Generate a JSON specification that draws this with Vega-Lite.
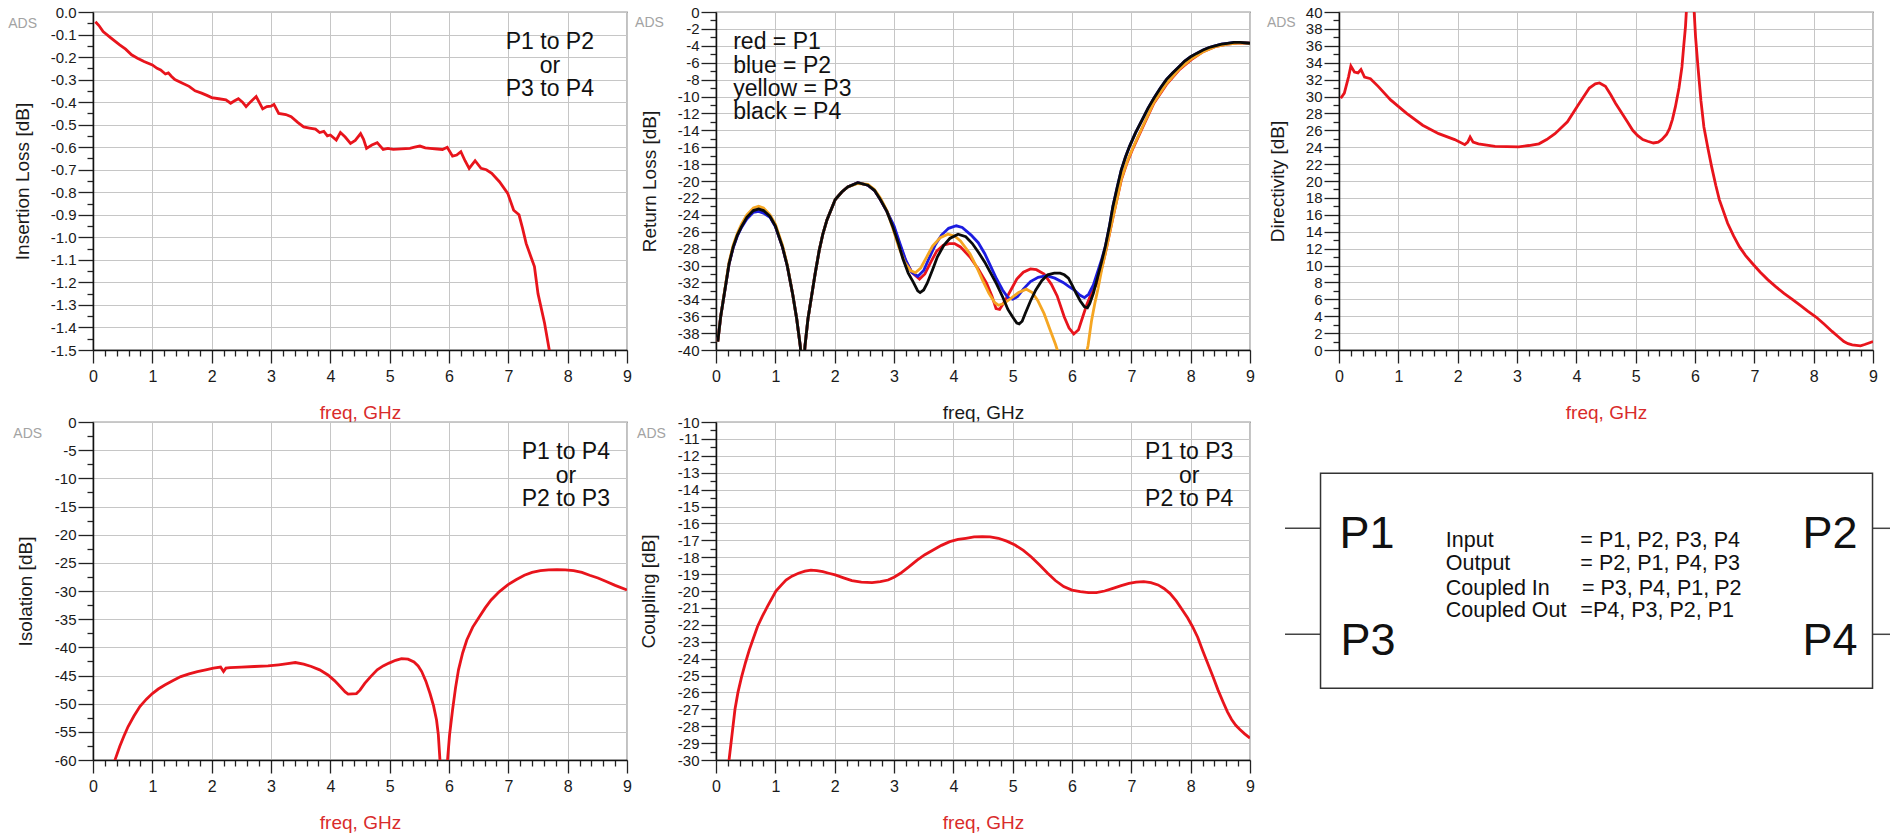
{
"$schema": "https://vega.github.io/schema/vega-lite/v6.json",
"padding": {"left": 7, "top": 4, "right": 0, "bottom": 0},
"background": "white",
"columns": 3,
"spacing": {"row": 72, "column": 89},
"bounds": "flush",
"datasets": {
"il": [
{"f":0.04,"v":-0.043},{"f":0.1,"v":-0.06},{"f":0.17,"v":-0.087},{"f":0.3,"v":-0.115},{"f":0.45,"v":-0.146},{"f":0.55,"v":-0.165},{"f":0.65,"v":-0.19},{"f":0.75,"v":-0.205},{"f":0.86,"v":-0.22},{"f":1.0,"v":-0.235},{"f":1.08,"v":-0.25},{"f":1.14,"v":-0.257},{"f":1.22,"v":-0.275},{"f":1.27,"v":-0.27},{"f":1.32,"v":-0.285},{"f":1.38,"v":-0.3},{"f":1.5,"v":-0.315},{"f":1.62,"v":-0.33},{"f":1.72,"v":-0.35},{"f":1.83,"v":-0.36},{"f":1.92,"v":-0.37},{"f":2.0,"v":-0.38},{"f":2.12,"v":-0.385},{"f":2.24,"v":-0.39},{"f":2.32,"v":-0.405},{"f":2.38,"v":-0.395},{"f":2.45,"v":-0.385},{"f":2.52,"v":-0.4},{"f":2.58,"v":-0.42},{"f":2.65,"v":-0.4},{"f":2.75,"v":-0.375},{"f":2.8,"v":-0.4},{"f":2.86,"v":-0.43},{"f":2.93,"v":-0.42},{"f":3.0,"v":-0.418},{"f":3.05,"v":-0.41},{"f":3.13,"v":-0.45},{"f":3.25,"v":-0.455},{"f":3.34,"v":-0.465},{"f":3.45,"v":-0.49},{"f":3.55,"v":-0.51},{"f":3.65,"v":-0.515},{"f":3.75,"v":-0.52},{"f":3.82,"v":-0.535},{"f":3.89,"v":-0.53},{"f":3.95,"v":-0.55},{"f":4.0,"v":-0.546},{"f":4.1,"v":-0.568},{"f":4.17,"v":-0.535},{"f":4.25,"v":-0.555},{"f":4.34,"v":-0.583},{"f":4.42,"v":-0.57},{"f":4.51,"v":-0.54},{"f":4.56,"v":-0.565},{"f":4.61,"v":-0.605},{"f":4.7,"v":-0.59},{"f":4.79,"v":-0.58},{"f":4.89,"v":-0.61},{"f":4.97,"v":-0.605},{"f":5.06,"v":-0.61},{"f":5.2,"v":-0.607},{"f":5.34,"v":-0.605},{"f":5.42,"v":-0.6},{"f":5.51,"v":-0.595},{"f":5.6,"v":-0.603},{"f":5.68,"v":-0.605},{"f":5.8,"v":-0.608},{"f":5.89,"v":-0.61},{"f":5.97,"v":-0.6},{"f":6.06,"v":-0.64},{"f":6.13,"v":-0.635},{"f":6.2,"v":-0.62},{"f":6.27,"v":-0.66},{"f":6.34,"v":-0.694},{"f":6.44,"v":-0.66},{"f":6.54,"v":-0.694},{"f":6.63,"v":-0.7},{"f":6.72,"v":-0.716},{"f":6.85,"v":-0.753},{"f":6.99,"v":-0.805},{"f":7.09,"v":-0.88},{"f":7.18,"v":-0.9},{"f":7.24,"v":-0.96},{"f":7.3,"v":-1.027},{"f":7.38,"v":-1.086},{"f":7.44,"v":-1.13},{"f":7.5,"v":-1.25},{"f":7.61,"v":-1.38},{"f":7.69,"v":-1.5},{"f":7.74,"v":-1.6}
],
"rl": [
{"p":"P1","f":0.03,"v":-39},{"p":"P1","f":0.08,"v":-36},{"p":"P1","f":0.15,"v":-32.9},{"p":"P1","f":0.22,"v":-29.8},{"p":"P1","f":0.29,"v":-27.8},{"p":"P1","f":0.36,"v":-26.4},{"p":"P1","f":0.43,"v":-25.4},{"p":"P1","f":0.52,"v":-24.3},{"p":"P1","f":0.63,"v":-23.5},{"p":"P1","f":0.72,"v":-23.4},{"p":"P1","f":0.8,"v":-23.6},{"p":"P1","f":0.91,"v":-24.2},{"p":"P1","f":1.0,"v":-25.3},{"p":"P1","f":1.12,"v":-27.8},{"p":"P1","f":1.2,"v":-30.0},{"p":"P1","f":1.29,"v":-33.3},{"p":"P1","f":1.36,"v":-36.3},{"p":"P1","f":1.42,"v":-39.5},{"p":"P1","f":1.445,"v":-42},{"p":"P1","f":1.475,"v":-42},{"p":"P1","f":1.5,"v":-39.5},{"p":"P1","f":1.55,"v":-36.3},{"p":"P1","f":1.6,"v":-34.1},{"p":"P1","f":1.67,"v":-31},{"p":"P1","f":1.74,"v":-28.2},{"p":"P1","f":1.8,"v":-26.3},{"p":"P1","f":1.87,"v":-24.6},{"p":"P1","f":2.01,"v":-22.2},{"p":"P1","f":2.12,"v":-21.3},{"p":"P1","f":2.22,"v":-20.7},{"p":"P1","f":2.39,"v":-20.2},{"p":"P1","f":2.56,"v":-20.5},{"p":"P1","f":2.67,"v":-21.1},{"p":"P1","f":2.77,"v":-22.2},{"p":"P1","f":2.88,"v":-23.6},{"p":"P1","f":3.0,"v":-25.5},{"p":"P1","f":3.1,"v":-27.6},{"p":"P1","f":3.2,"v":-29.5},{"p":"P1","f":3.3,"v":-30.8},{"p":"P1","f":3.43,"v":-31.6},{"p":"P1","f":3.52,"v":-31.0},{"p":"P1","f":3.62,"v":-29.6},{"p":"P1","f":3.72,"v":-28.3},{"p":"P1","f":3.83,"v":-27.6},{"p":"P1","f":3.93,"v":-27.4},{"p":"P1","f":4.02,"v":-27.4},{"p":"P1","f":4.12,"v":-27.8},{"p":"P1","f":4.28,"v":-29.0},{"p":"P1","f":4.42,"v":-30.4},{"p":"P1","f":4.56,"v":-32.1},{"p":"P1","f":4.65,"v":-33.6},{"p":"P1","f":4.72,"v":-35.1},{"p":"P1","f":4.78,"v":-35.2},{"p":"P1","f":4.86,"v":-34.3},{"p":"P1","f":4.97,"v":-32.9},{"p":"P1","f":5.07,"v":-31.6},{"p":"P1","f":5.18,"v":-30.8},{"p":"P1","f":5.3,"v":-30.4},{"p":"P1","f":5.4,"v":-30.5},{"p":"P1","f":5.53,"v":-31.0},{"p":"P1","f":5.65,"v":-32.2},{"p":"P1","f":5.75,"v":-33.6},{"p":"P1","f":5.87,"v":-36.1},{"p":"P1","f":5.95,"v":-37.4},{"p":"P1","f":6.03,"v":-38.1},{"p":"P1","f":6.11,"v":-37.6},{"p":"P1","f":6.18,"v":-36.1},{"p":"P1","f":6.25,"v":-34.6},{"p":"P1","f":6.32,"v":-33.4},{"p":"P1","f":6.42,"v":-32.1},{"p":"P1","f":6.49,"v":-30.6},{"p":"P1","f":6.56,"v":-28.6},{"p":"P1","f":6.63,"v":-26.3},{"p":"P1","f":6.7,"v":-24.0},{"p":"P1","f":6.77,"v":-21.8},{"p":"P1","f":6.83,"v":-19.9},{"p":"P1","f":6.93,"v":-17.8},{"p":"P1","f":7.03,"v":-16.1},{"p":"P1","f":7.2,"v":-13.5},{"p":"P1","f":7.38,"v":-10.8},{"p":"P1","f":7.59,"v":-8.6},{"p":"P1","f":7.8,"v":-6.9},{"p":"P1","f":8.0,"v":-5.7},{"p":"P1","f":8.21,"v":-4.7},{"p":"P1","f":8.41,"v":-4.1},{"p":"P1","f":8.62,"v":-3.8},{"p":"P1","f":8.83,"v":-3.65},{"p":"P1","f":9.0,"v":-3.7},

{"p":"P2","f":0.03,"v":-39},{"p":"P2","f":0.08,"v":-36},{"p":"P2","f":0.15,"v":-32.9},{"p":"P2","f":0.22,"v":-29.8},{"p":"P2","f":0.29,"v":-27.9},{"p":"P2","f":0.36,"v":-26.5},{"p":"P2","f":0.43,"v":-25.5},{"p":"P2","f":0.52,"v":-24.5},{"p":"P2","f":0.63,"v":-23.7},{"p":"P2","f":0.72,"v":-23.6},{"p":"P2","f":0.8,"v":-23.8},{"p":"P2","f":0.91,"v":-24.3},{"p":"P2","f":1.0,"v":-25.4},{"p":"P2","f":1.12,"v":-27.8},{"p":"P2","f":1.2,"v":-30.0},{"p":"P2","f":1.29,"v":-33.3},{"p":"P2","f":1.36,"v":-36.3},{"p":"P2","f":1.42,"v":-39.5},{"p":"P2","f":1.445,"v":-42},{"p":"P2","f":1.475,"v":-42},{"p":"P2","f":1.5,"v":-39.5},{"p":"P2","f":1.55,"v":-36.3},{"p":"P2","f":1.6,"v":-34.1},{"p":"P2","f":1.67,"v":-31},{"p":"P2","f":1.74,"v":-28.2},{"p":"P2","f":1.8,"v":-26.3},{"p":"P2","f":1.87,"v":-24.6},{"p":"P2","f":2.01,"v":-22.2},{"p":"P2","f":2.12,"v":-21.3},{"p":"P2","f":2.22,"v":-20.7},{"p":"P2","f":2.39,"v":-20.2},{"p":"P2","f":2.56,"v":-20.5},{"p":"P2","f":2.67,"v":-21.1},{"p":"P2","f":2.77,"v":-22.2},{"p":"P2","f":2.88,"v":-23.6},{"p":"P2","f":3.0,"v":-25.3},{"p":"P2","f":3.1,"v":-27.4},{"p":"P2","f":3.2,"v":-29.4},{"p":"P2","f":3.3,"v":-30.8},{"p":"P2","f":3.4,"v":-31.3},{"p":"P2","f":3.5,"v":-30.6},{"p":"P2","f":3.6,"v":-29.0},{"p":"P2","f":3.7,"v":-27.5},{"p":"P2","f":3.8,"v":-26.4},{"p":"P2","f":3.92,"v":-25.6},{"p":"P2","f":4.05,"v":-25.3},{"p":"P2","f":4.15,"v":-25.5},{"p":"P2","f":4.3,"v":-26.4},{"p":"P2","f":4.42,"v":-27.3},{"p":"P2","f":4.53,"v":-28.6},{"p":"P2","f":4.63,"v":-30.1},{"p":"P2","f":4.73,"v":-31.6},{"p":"P2","f":4.83,"v":-32.9},{"p":"P2","f":4.92,"v":-33.8},{"p":"P2","f":5.0,"v":-34.0},{"p":"P2","f":5.08,"v":-33.7},{"p":"P2","f":5.18,"v":-32.8},{"p":"P2","f":5.3,"v":-31.9},{"p":"P2","f":5.43,"v":-31.4},{"p":"P2","f":5.57,"v":-31.2},{"p":"P2","f":5.71,"v":-31.5},{"p":"P2","f":5.85,"v":-32.0},{"p":"P2","f":5.95,"v":-32.5},{"p":"P2","f":6.04,"v":-32.9},{"p":"P2","f":6.13,"v":-33.5},{"p":"P2","f":6.21,"v":-33.8},{"p":"P2","f":6.28,"v":-33.4},{"p":"P2","f":6.36,"v":-32.3},{"p":"P2","f":6.42,"v":-31.0},{"p":"P2","f":6.49,"v":-29.5},{"p":"P2","f":6.56,"v":-27.8},{"p":"P2","f":6.63,"v":-25.4},{"p":"P2","f":6.69,"v":-23},{"p":"P2","f":6.76,"v":-20.8},{"p":"P2","f":6.83,"v":-18.7},{"p":"P2","f":6.9,"v":-17.2},{"p":"P2","f":6.97,"v":-15.9},{"p":"P2","f":7.07,"v":-14.3},{"p":"P2","f":7.18,"v":-12.8},{"p":"P2","f":7.28,"v":-11.4},{"p":"P2","f":7.38,"v":-10.2},{"p":"P2","f":7.49,"v":-9.0},{"p":"P2","f":7.59,"v":-8.0},{"p":"P2","f":7.7,"v":-7.2},{"p":"P2","f":7.8,"v":-6.5},{"p":"P2","f":7.9,"v":-5.8},{"p":"P2","f":8.0,"v":-5.3},{"p":"P2","f":8.1,"v":-4.9},{"p":"P2","f":8.21,"v":-4.5},{"p":"P2","f":8.31,"v":-4.2},{"p":"P2","f":8.41,"v":-4.0},{"p":"P2","f":8.52,"v":-3.8},{"p":"P2","f":8.62,"v":-3.7},{"p":"P2","f":8.73,"v":-3.6},{"p":"P2","f":8.83,"v":-3.6},{"p":"P2","f":9.0,"v":-3.7},

{"p":"P3","f":0.03,"v":-39},{"p":"P3","f":0.08,"v":-36},{"p":"P3","f":0.15,"v":-32.8},{"p":"P3","f":0.22,"v":-29.6},{"p":"P3","f":0.29,"v":-27.6},{"p":"P3","f":0.36,"v":-26.2},{"p":"P3","f":0.43,"v":-25.1},{"p":"P3","f":0.52,"v":-24.0},{"p":"P3","f":0.63,"v":-23.2},{"p":"P3","f":0.72,"v":-23.0},{"p":"P3","f":0.8,"v":-23.2},{"p":"P3","f":0.91,"v":-24.0},{"p":"P3","f":1.0,"v":-25.1},{"p":"P3","f":1.12,"v":-27.6},{"p":"P3","f":1.2,"v":-29.9},{"p":"P3","f":1.29,"v":-33.3},{"p":"P3","f":1.36,"v":-36.3},{"p":"P3","f":1.42,"v":-39.5},{"p":"P3","f":1.445,"v":-42},{"p":"P3","f":1.475,"v":-42},{"p":"P3","f":1.5,"v":-39.5},{"p":"P3","f":1.55,"v":-36.3},{"p":"P3","f":1.6,"v":-34.1},{"p":"P3","f":1.67,"v":-31},{"p":"P3","f":1.74,"v":-28.2},{"p":"P3","f":1.8,"v":-26.3},{"p":"P3","f":1.87,"v":-24.6},{"p":"P3","f":2.01,"v":-22.2},{"p":"P3","f":2.12,"v":-21.3},{"p":"P3","f":2.22,"v":-20.7},{"p":"P3","f":2.39,"v":-20.3},{"p":"P3","f":2.56,"v":-20.4},{"p":"P3","f":2.67,"v":-21.0},{"p":"P3","f":2.77,"v":-22.0},{"p":"P3","f":2.88,"v":-23.5},{"p":"P3","f":2.98,"v":-25.6},{"p":"P3","f":3.08,"v":-27.8},{"p":"P3","f":3.18,"v":-29.6},{"p":"P3","f":3.28,"v":-30.6},{"p":"P3","f":3.36,"v":-30.85},{"p":"P3","f":3.45,"v":-30.3},{"p":"P3","f":3.55,"v":-29.0},{"p":"P3","f":3.65,"v":-27.7},{"p":"P3","f":3.78,"v":-26.7},{"p":"P3","f":3.91,"v":-26.3},{"p":"P3","f":4.02,"v":-26.5},{"p":"P3","f":4.12,"v":-27.1},{"p":"P3","f":4.28,"v":-28.6},{"p":"P3","f":4.4,"v":-30.3},{"p":"P3","f":4.49,"v":-31.7},{"p":"P3","f":4.6,"v":-33.3},{"p":"P3","f":4.7,"v":-34.4},{"p":"P3","f":4.76,"v":-34.7},{"p":"P3","f":4.85,"v":-34.5},{"p":"P3","f":4.97,"v":-33.9},{"p":"P3","f":5.1,"v":-33.2},{"p":"P3","f":5.23,"v":-32.8},{"p":"P3","f":5.33,"v":-33.2},{"p":"P3","f":5.42,"v":-34.1},{"p":"P3","f":5.53,"v":-35.7},{"p":"P3","f":5.63,"v":-37.6},{"p":"P3","f":5.72,"v":-39.3},{"p":"P3","f":5.8,"v":-41},{"p":"P3","f":6.0,"v":-50},{"p":"P3","f":6.22,"v":-41},{"p":"P3","f":6.27,"v":-39.5},{"p":"P3","f":6.33,"v":-36.5},{"p":"P3","f":6.39,"v":-34.3},{"p":"P3","f":6.44,"v":-32.7},{"p":"P3","f":6.5,"v":-30.5},{"p":"P3","f":6.56,"v":-28.6},{"p":"P3","f":6.63,"v":-26.3},{"p":"P3","f":6.7,"v":-24.0},{"p":"P3","f":6.77,"v":-21.8},{"p":"P3","f":6.83,"v":-19.8},{"p":"P3","f":6.93,"v":-17.7},{"p":"P3","f":7.03,"v":-16.0},{"p":"P3","f":7.2,"v":-13.4},{"p":"P3","f":7.38,"v":-10.7},{"p":"P3","f":7.59,"v":-8.5},{"p":"P3","f":7.8,"v":-6.8},{"p":"P3","f":8.0,"v":-5.6},{"p":"P3","f":8.21,"v":-4.7},{"p":"P3","f":8.41,"v":-4.1},{"p":"P3","f":8.62,"v":-3.8},{"p":"P3","f":8.83,"v":-3.65},{"p":"P3","f":9.0,"v":-3.7},

{"p":"P4","f":0.03,"v":-39},{"p":"P4","f":0.08,"v":-36},{"p":"P4","f":0.15,"v":-32.9},{"p":"P4","f":0.22,"v":-29.8},{"p":"P4","f":0.29,"v":-27.8},{"p":"P4","f":0.36,"v":-26.4},{"p":"P4","f":0.43,"v":-25.4},{"p":"P4","f":0.52,"v":-24.3},{"p":"P4","f":0.63,"v":-23.5},{"p":"P4","f":0.72,"v":-23.3},{"p":"P4","f":0.8,"v":-23.5},{"p":"P4","f":0.91,"v":-24.2},{"p":"P4","f":1.0,"v":-25.3},{"p":"P4","f":1.12,"v":-27.8},{"p":"P4","f":1.2,"v":-30.0},{"p":"P4","f":1.29,"v":-33.3},{"p":"P4","f":1.36,"v":-36.3},{"p":"P4","f":1.42,"v":-39.5},{"p":"P4","f":1.445,"v":-42},{"p":"P4","f":1.475,"v":-42},{"p":"P4","f":1.5,"v":-39.5},{"p":"P4","f":1.55,"v":-36.3},{"p":"P4","f":1.6,"v":-34.1},{"p":"P4","f":1.67,"v":-31},{"p":"P4","f":1.74,"v":-28.2},{"p":"P4","f":1.8,"v":-26.3},{"p":"P4","f":1.87,"v":-24.6},{"p":"P4","f":2.01,"v":-22.2},{"p":"P4","f":2.12,"v":-21.3},{"p":"P4","f":2.22,"v":-20.7},{"p":"P4","f":2.39,"v":-20.2},{"p":"P4","f":2.56,"v":-20.5},{"p":"P4","f":2.67,"v":-21.1},{"p":"P4","f":2.77,"v":-22.2},{"p":"P4","f":2.88,"v":-23.6},{"p":"P4","f":2.98,"v":-25.4},{"p":"P4","f":3.07,"v":-27.3},{"p":"P4","f":3.15,"v":-29.2},{"p":"P4","f":3.24,"v":-30.9},{"p":"P4","f":3.32,"v":-31.9},{"p":"P4","f":3.4,"v":-33.0},{"p":"P4","f":3.44,"v":-33.2},{"p":"P4","f":3.5,"v":-32.9},{"p":"P4","f":3.56,"v":-32.1},{"p":"P4","f":3.65,"v":-30.5},{"p":"P4","f":3.73,"v":-29.0},{"p":"P4","f":3.84,"v":-27.6},{"p":"P4","f":3.94,"v":-26.8},{"p":"P4","f":4.08,"v":-26.3},{"p":"P4","f":4.21,"v":-26.6},{"p":"P4","f":4.32,"v":-27.4},{"p":"P4","f":4.42,"v":-28.4},{"p":"P4","f":4.53,"v":-29.6},{"p":"P4","f":4.63,"v":-30.9},{"p":"P4","f":4.73,"v":-32.2},{"p":"P4","f":4.83,"v":-33.7},{"p":"P4","f":4.92,"v":-35.2},{"p":"P4","f":5.0,"v":-36.1},{"p":"P4","f":5.07,"v":-36.8},{"p":"P4","f":5.11,"v":-36.9},{"p":"P4","f":5.16,"v":-36.6},{"p":"P4","f":5.21,"v":-35.7},{"p":"P4","f":5.3,"v":-34.2},{"p":"P4","f":5.39,"v":-32.9},{"p":"P4","f":5.49,"v":-31.8},{"p":"P4","f":5.59,"v":-31.1},{"p":"P4","f":5.7,"v":-30.9},{"p":"P4","f":5.8,"v":-30.9},{"p":"P4","f":5.87,"v":-31.1},{"p":"P4","f":5.94,"v":-31.5},{"p":"P4","f":6.0,"v":-32.3},{"p":"P4","f":6.07,"v":-33.3},{"p":"P4","f":6.14,"v":-34.2},{"p":"P4","f":6.21,"v":-34.9},{"p":"P4","f":6.26,"v":-35.0},{"p":"P4","f":6.3,"v":-34.5},{"p":"P4","f":6.36,"v":-33.3},{"p":"P4","f":6.42,"v":-31.7},{"p":"P4","f":6.49,"v":-29.8},{"p":"P4","f":6.56,"v":-27.8},{"p":"P4","f":6.63,"v":-25.4},{"p":"P4","f":6.69,"v":-23},{"p":"P4","f":6.76,"v":-20.8},{"p":"P4","f":6.83,"v":-18.7},{"p":"P4","f":6.9,"v":-17.2},{"p":"P4","f":6.97,"v":-15.9},{"p":"P4","f":7.07,"v":-14.3},{"p":"P4","f":7.18,"v":-12.8},{"p":"P4","f":7.28,"v":-11.4},{"p":"P4","f":7.38,"v":-10.2},{"p":"P4","f":7.49,"v":-9.0},{"p":"P4","f":7.59,"v":-8.0},{"p":"P4","f":7.7,"v":-7.2},{"p":"P4","f":7.8,"v":-6.5},{"p":"P4","f":7.9,"v":-5.8},{"p":"P4","f":8.0,"v":-5.3},{"p":"P4","f":8.1,"v":-4.9},{"p":"P4","f":8.21,"v":-4.5},{"p":"P4","f":8.31,"v":-4.2},{"p":"P4","f":8.41,"v":-4.0},{"p":"P4","f":8.52,"v":-3.8},{"p":"P4","f":8.62,"v":-3.7},{"p":"P4","f":8.73,"v":-3.6},{"p":"P4","f":8.83,"v":-3.6},{"p":"P4","f":9.0,"v":-3.7}
],
"dir": [
{"f":0.03,"v":29.8},{"f":0.09,"v":30.4},{"f":0.16,"v":32.3},{"f":0.2,"v":33.6},{"f":0.26,"v":32.9},{"f":0.32,"v":32.8},{"f":0.37,"v":33.2},{"f":0.43,"v":32.3},{"f":0.53,"v":32.1},{"f":0.66,"v":31.2},{"f":0.87,"v":29.6},{"f":1.14,"v":28.0},{"f":1.41,"v":26.6},{"f":1.68,"v":25.6},{"f":1.95,"v":24.9},{"f":2.12,"v":24.3},{"f":2.17,"v":24.6},{"f":2.21,"v":25.2},{"f":2.26,"v":24.6},{"f":2.35,"v":24.4},{"f":2.63,"v":24.1},{"f":3.03,"v":24.05},{"f":3.2,"v":24.2},{"f":3.37,"v":24.4},{"f":3.5,"v":24.9},{"f":3.64,"v":25.6},{"f":3.85,"v":27.0},{"f":4.05,"v":29.2},{"f":4.22,"v":31.0},{"f":4.32,"v":31.5},{"f":4.39,"v":31.6},{"f":4.49,"v":31.2},{"f":4.58,"v":30.2},{"f":4.66,"v":29.2},{"f":4.76,"v":28.1},{"f":4.86,"v":27.0},{"f":4.95,"v":26.0},{"f":5.03,"v":25.4},{"f":5.12,"v":24.9},{"f":5.2,"v":24.7},{"f":5.3,"v":24.5},{"f":5.38,"v":24.6},{"f":5.44,"v":24.9},{"f":5.52,"v":25.5},{"f":5.57,"v":26.2},{"f":5.62,"v":27.3},{"f":5.67,"v":28.8},{"f":5.73,"v":31.0},{"f":5.78,"v":33.5},{"f":5.81,"v":36},{"f":5.84,"v":38.3},{"f":5.87,"v":42},{"f":5.97,"v":42},{"f":6.01,"v":37},{"f":6.05,"v":33.5},{"f":6.1,"v":29.5},{"f":6.15,"v":26.4},{"f":6.22,"v":23.8},{"f":6.28,"v":21.7},{"f":6.35,"v":19.5},{"f":6.41,"v":17.8},{"f":6.55,"v":15.0},{"f":6.65,"v":13.5},{"f":6.75,"v":12.2},{"f":6.85,"v":11.2},{"f":6.96,"v":10.3},{"f":7.1,"v":9.2},{"f":7.23,"v":8.3},{"f":7.36,"v":7.5},{"f":7.5,"v":6.7},{"f":7.64,"v":6.0},{"f":7.77,"v":5.3},{"f":7.9,"v":4.6},{"f":8.04,"v":3.9},{"f":8.17,"v":3.1},{"f":8.31,"v":2.2},{"f":8.41,"v":1.6},{"f":8.51,"v":1.0},{"f":8.58,"v":0.75},{"f":8.65,"v":0.6},{"f":8.72,"v":0.55},{"f":8.79,"v":0.5},{"f":8.86,"v":0.65},{"f":8.92,"v":0.8},{"f":9.0,"v":1.0}
],
"iso": [
{"f":0.3,"v":-64},{"f":0.37,"v":-60},{"f":0.45,"v":-57.6},{"f":0.52,"v":-55.8},{"f":0.59,"v":-54.1},{"f":0.69,"v":-52.2},{"f":0.79,"v":-50.5},{"f":0.9,"v":-49.2},{"f":1.0,"v":-48.2},{"f":1.1,"v":-47.4},{"f":1.21,"v":-46.7},{"f":1.35,"v":-45.9},{"f":1.48,"v":-45.2},{"f":1.62,"v":-44.7},{"f":1.76,"v":-44.3},{"f":1.9,"v":-44.0},{"f":2.03,"v":-43.7},{"f":2.15,"v":-43.5},{"f":2.2,"v":-44.3},{"f":2.24,"v":-43.7},{"f":2.31,"v":-43.6},{"f":2.5,"v":-43.5},{"f":2.72,"v":-43.4},{"f":2.95,"v":-43.3},{"f":3.13,"v":-43.1},{"f":3.28,"v":-42.9},{"f":3.41,"v":-42.7},{"f":3.55,"v":-43.0},{"f":3.68,"v":-43.4},{"f":3.82,"v":-44.0},{"f":3.96,"v":-44.9},{"f":4.07,"v":-45.9},{"f":4.17,"v":-47.0},{"f":4.25,"v":-47.9},{"f":4.3,"v":-48.3},{"f":4.44,"v":-48.2},{"f":4.5,"v":-47.6},{"f":4.58,"v":-46.4},{"f":4.68,"v":-45.2},{"f":4.79,"v":-44.0},{"f":4.89,"v":-43.3},{"f":4.99,"v":-42.8},{"f":5.1,"v":-42.3},{"f":5.2,"v":-42.0},{"f":5.31,"v":-42.1},{"f":5.41,"v":-42.6},{"f":5.48,"v":-43.3},{"f":5.54,"v":-44.3},{"f":5.61,"v":-46.0},{"f":5.68,"v":-48.2},{"f":5.74,"v":-50.4},{"f":5.79,"v":-52.9},{"f":5.82,"v":-55.5},{"f":5.86,"v":-62},{"f":5.96,"v":-62},{"f":6.01,"v":-55.5},{"f":6.06,"v":-51.1},{"f":6.11,"v":-47.2},{"f":6.16,"v":-44.0},{"f":6.23,"v":-41.0},{"f":6.3,"v":-38.7},{"f":6.4,"v":-36.4},{"f":6.51,"v":-34.6},{"f":6.61,"v":-33.0},{"f":6.71,"v":-31.6},{"f":6.85,"v":-30.1},{"f":6.99,"v":-28.9},{"f":7.13,"v":-28.0},{"f":7.27,"v":-27.2},{"f":7.4,"v":-26.7},{"f":7.54,"v":-26.4},{"f":7.68,"v":-26.25},{"f":7.82,"v":-26.2},{"f":7.96,"v":-26.25},{"f":8.1,"v":-26.4},{"f":8.24,"v":-26.7},{"f":8.37,"v":-27.2},{"f":8.51,"v":-27.7},{"f":8.65,"v":-28.3},{"f":8.8,"v":-29.0},{"f":9.0,"v":-29.8}
],
"cpl": [
{"f":0.18,"v":-32},{"f":0.22,"v":-30},{"f":0.27,"v":-28.5},{"f":0.32,"v":-27},{"f":0.37,"v":-26},{"f":0.43,"v":-25.1},{"f":0.5,"v":-24.2},{"f":0.56,"v":-23.5},{"f":0.63,"v":-22.8},{"f":0.7,"v":-22.1},{"f":0.78,"v":-21.5},{"f":0.87,"v":-20.9},{"f":1.01,"v":-20.0},{"f":1.1,"v":-19.65},{"f":1.18,"v":-19.35},{"f":1.28,"v":-19.12},{"f":1.39,"v":-18.95},{"f":1.5,"v":-18.83},{"f":1.6,"v":-18.76},{"f":1.7,"v":-18.79},{"f":1.8,"v":-18.86},{"f":1.9,"v":-18.95},{"f":2.01,"v":-19.05},{"f":2.15,"v":-19.22},{"f":2.29,"v":-19.39},{"f":2.45,"v":-19.47},{"f":2.63,"v":-19.5},{"f":2.77,"v":-19.45},{"f":2.9,"v":-19.35},{"f":3.0,"v":-19.18},{"f":3.11,"v":-18.95},{"f":3.25,"v":-18.57},{"f":3.39,"v":-18.17},{"f":3.52,"v":-17.85},{"f":3.66,"v":-17.57},{"f":3.8,"v":-17.3},{"f":3.94,"v":-17.08},{"f":4.08,"v":-16.95},{"f":4.21,"v":-16.88},{"f":4.35,"v":-16.8},{"f":4.49,"v":-16.78},{"f":4.62,"v":-16.8},{"f":4.76,"v":-16.88},{"f":4.9,"v":-17.05},{"f":5.04,"v":-17.28},{"f":5.18,"v":-17.6},{"f":5.31,"v":-17.97},{"f":5.45,"v":-18.45},{"f":5.59,"v":-18.95},{"f":5.72,"v":-19.38},{"f":5.86,"v":-19.74},{"f":6.0,"v":-19.95},{"f":6.14,"v":-20.04},{"f":6.28,"v":-20.1},{"f":6.41,"v":-20.1},{"f":6.55,"v":-20.0},{"f":6.69,"v":-19.84},{"f":6.83,"v":-19.68},{"f":6.96,"v":-19.55},{"f":7.08,"v":-19.48},{"f":7.21,"v":-19.45},{"f":7.33,"v":-19.5},{"f":7.45,"v":-19.64},{"f":7.55,"v":-19.85},{"f":7.65,"v":-20.14},{"f":7.76,"v":-20.6},{"f":7.86,"v":-21.12},{"f":7.95,"v":-21.6},{"f":8.03,"v":-22.1},{"f":8.12,"v":-22.75},{"f":8.2,"v":-23.5},{"f":8.29,"v":-24.3},{"f":8.38,"v":-25.1},{"f":8.46,"v":-25.85},{"f":8.55,"v":-26.6},{"f":8.62,"v":-27.15},{"f":8.69,"v":-27.6},{"f":8.76,"v":-27.95},{"f":8.83,"v":-28.2},{"f":8.91,"v":-28.45},{"f":9.0,"v":-28.7}
]
},
"concat": [
{
"width": 534, "height": 338,
"resolve": {"axis": {"x": "independent", "y": "independent"}},
"layer": [
{"data": {"values": [{"x": -1.429, "y": -0.0723, "t": "ADS"}]},
 "mark": {"type": "text", "align": "left", "baseline": "alphabetic", "fontSize": 14, "color": "#a3a3a3"},
 "encoding": {
  "x": {"field": "x", "type": "quantitative", "scale": {"domain": [0, 9], "nice": false, "zero": false}, "axis": {"orient": "bottom", "values": [0.2,0.4,0.6,0.8,1.2,1.4,1.6,1.8,2.2,2.4,2.6,2.8,3.2,3.4,3.6,3.8,4.2,4.4,4.6,4.8,5.2,5.4,5.6,5.8,6.2,6.4,6.6,6.8,7.2,7.4,7.6,7.8,8.2,8.4,8.6,8.8], "labels": false, "grid": false, "domain": false, "tickSize": 6, "title": null}},
  "y": {"field": "y", "type": "quantitative", "scale": {"domain": [-1.5, 0], "nice": false, "zero": false}, "axis": {"orient": "left", "values": [-0.05,-0.15,-0.25,-0.35,-0.45,-0.55,-0.65,-0.75,-0.85,-0.95,-1.05,-1.15,-1.25,-1.35,-1.45], "labels": false, "grid": false, "domain": false, "tickSize": 6, "title": null}},
  "text": {"field": "t"}}},
{"data": {"name": "il"},
 "mark": {"type": "line", "color": "#e8141c", "strokeWidth": 2.8, "clip": true},
 "encoding": {
  "x": {"field": "f", "type": "quantitative", "scale": {"domain": [0, 9], "nice": false, "zero": false}, "axis": {"orient": "bottom", "values": [0,1,2,3,4,5,6,7,8,9], "format": "d", "grid": true, "tickSize": 13, "labelPadding": 5, "labelFontSize": 16, "title": "freq, GHz", "titleFontSize": 19, "titleColor": "#d92b2b", "titleY": 62, "titleBaseline": "middle"}},
  "y": {"field": "v", "type": "quantitative", "scale": {"domain": [-1.5, 0], "nice": false, "zero": false}, "axis": {"orient": "left", "values": [0,-0.1,-0.2,-0.3,-0.4,-0.5,-0.6,-0.7,-0.8,-0.9,-1.0,-1.1,-1.2,-1.3,-1.4,-1.5], "format": ".1f", "grid": true, "tickSize": 15, "labelPadding": 2, "labelFontSize": 15, "title": "Insertion Loss [dB]", "titleFontSize": 19, "titleX": -71, "titleY": 169, "titleBaseline": "middle"}}}},
{"data": {"values": [{"x": 7.7, "y": -0.1655, "t": "P1 to P2\nor\nP3 to P4"}]},
 "mark": {"type": "text", "align": "center", "baseline": "alphabetic", "fontSize": 23, "lineHeight": 23.5, "lineBreak": "\n", "color": "#111"},
 "encoding": {
  "x": {"field": "x", "type": "quantitative", "scale": {"domain": [0, 9], "nice": false, "zero": false}, "axis": null},
  "y": {"field": "y", "type": "quantitative", "scale": {"domain": [-1.5, 0], "nice": false, "zero": false}, "axis": null},
  "text": {"field": "t"}}}
]
},
{
"width": 534, "height": 338,
"resolve": {"axis": {"x": "independent", "y": "independent"}},
"layer": [
{"data": {"values": [{"x": -1.364, "y": -1.83, "t": "ADS"}]},
 "mark": {"type": "text", "align": "left", "baseline": "alphabetic", "fontSize": 14, "color": "#a3a3a3"},
 "encoding": {
  "x": {"field": "x", "type": "quantitative", "scale": {"domain": [0, 9], "nice": false, "zero": false}, "axis": {"orient": "bottom", "values": [0.2,0.4,0.6,0.8,1.2,1.4,1.6,1.8,2.2,2.4,2.6,2.8,3.2,3.4,3.6,3.8,4.2,4.4,4.6,4.8,5.2,5.4,5.6,5.8,6.2,6.4,6.6,6.8,7.2,7.4,7.6,7.8,8.2,8.4,8.6,8.8], "labels": false, "grid": false, "domain": false, "tickSize": 6, "title": null}},
  "y": {"field": "y", "type": "quantitative", "scale": {"domain": [-40, 0], "nice": false, "zero": false}, "axis": {"orient": "left", "values": [-1,-3,-5,-7,-9,-11,-13,-15,-17,-19,-21,-23,-25,-27,-29,-31,-33,-35,-37,-39], "labels": false, "grid": false, "domain": false, "tickSize": 6, "title": null}},
  "text": {"field": "t"}}},
{"data": {"name": "rl"},
 "mark": {"type": "line", "strokeWidth": 2.8, "clip": true},
 "encoding": {
  "x": {"field": "f", "type": "quantitative", "scale": {"domain": [0, 9], "nice": false, "zero": false}, "axis": {"orient": "bottom", "values": [0,1,2,3,4,5,6,7,8,9], "format": "d", "grid": true, "tickSize": 13, "labelPadding": 5, "labelFontSize": 16, "title": "freq, GHz", "titleFontSize": 19, "titleColor": "#1a1a1a", "titleY": 62, "titleBaseline": "middle"}},
  "y": {"field": "v", "type": "quantitative", "scale": {"domain": [-40, 0], "nice": false, "zero": false}, "axis": {"orient": "left", "values": [0,-2,-4,-6,-8,-10,-12,-14,-16,-18,-20,-22,-24,-26,-28,-30,-32,-34,-36,-38,-40], "format": "d", "grid": true, "tickSize": 15, "labelPadding": 2, "labelFontSize": 15, "title": "Return Loss [dB]", "titleFontSize": 19, "titleX": -66.5, "titleY": 169, "titleBaseline": "middle"}},
  "color": {"field": "p", "type": "nominal", "scale": {"domain": ["P1","P2","P3","P4"], "range": ["#e8141c","#1c1ce0","#f5a623","#0a0a0a"]}, "legend": null}}},
{"data": {"values": [{"x": 0.29, "y": -4.41, "t": "red = P1\nblue = P2\nyellow = P3\nblack = P4"}]},
 "mark": {"type": "text", "align": "left", "baseline": "alphabetic", "fontSize": 23, "lineHeight": 23.3, "lineBreak": "\n", "color": "#111"},
 "encoding": {
  "x": {"field": "x", "type": "quantitative", "scale": {"domain": [0, 9], "nice": false, "zero": false}, "axis": null},
  "y": {"field": "y", "type": "quantitative", "scale": {"domain": [-40, 0], "nice": false, "zero": false}, "axis": null},
  "text": {"field": "t"}}}
]
},
{
"width": 534, "height": 338,
"resolve": {"axis": {"x": "independent", "y": "independent"}},
"layer": [
{"data": {"values": [{"x": -1.215, "y": 38.22, "t": "ADS"}]},
 "mark": {"type": "text", "align": "left", "baseline": "alphabetic", "fontSize": 14, "color": "#a3a3a3"},
 "encoding": {
  "x": {"field": "x", "type": "quantitative", "scale": {"domain": [0, 9], "nice": false, "zero": false}, "axis": {"orient": "bottom", "values": [0.2,0.4,0.6,0.8,1.2,1.4,1.6,1.8,2.2,2.4,2.6,2.8,3.2,3.4,3.6,3.8,4.2,4.4,4.6,4.8,5.2,5.4,5.6,5.8,6.2,6.4,6.6,6.8,7.2,7.4,7.6,7.8,8.2,8.4,8.6,8.8], "labels": false, "grid": false, "domain": false, "tickSize": 6, "title": null}},
  "y": {"field": "y", "type": "quantitative", "scale": {"domain": [0, 40], "nice": false, "zero": false}, "axis": {"orient": "left", "values": [1,3,5,7,9,11,13,15,17,19,21,23,25,27,29,31,33,35,37,39], "labels": false, "grid": false, "domain": false, "tickSize": 6, "title": null}},
  "text": {"field": "t"}}},
{"data": {"name": "dir"},
 "mark": {"type": "line", "color": "#e8141c", "strokeWidth": 2.8, "clip": true},
 "encoding": {
  "x": {"field": "f", "type": "quantitative", "scale": {"domain": [0, 9], "nice": false, "zero": false}, "axis": {"orient": "bottom", "values": [0,1,2,3,4,5,6,7,8,9], "format": "d", "grid": true, "tickSize": 13, "labelPadding": 5, "labelFontSize": 16, "title": "freq, GHz", "titleFontSize": 19, "titleColor": "#d92b2b", "titleY": 62, "titleBaseline": "middle"}},
  "y": {"field": "v", "type": "quantitative", "scale": {"domain": [0, 40], "nice": false, "zero": false}, "axis": {"orient": "left", "values": [0,2,4,6,8,10,12,14,16,18,20,22,24,26,28,30,32,34,36,38,40], "format": "d", "grid": true, "tickSize": 15, "labelPadding": 2, "labelFontSize": 15, "title": "Directivity [dB]", "titleFontSize": 19, "titleX": -61.4, "titleY": 169, "titleBaseline": "middle"}}}}
]
},
{
"width": 534, "height": 338,
"resolve": {"axis": {"x": "independent", "y": "independent"}},
"layer": [
{"data": {"values": [{"x": -1.342, "y": -2.89, "t": "ADS"}]},
 "mark": {"type": "text", "align": "left", "baseline": "alphabetic", "fontSize": 14, "color": "#a3a3a3"},
 "encoding": {
  "x": {"field": "x", "type": "quantitative", "scale": {"domain": [0, 9], "nice": false, "zero": false}, "axis": {"orient": "bottom", "values": [0.2,0.4,0.6,0.8,1.2,1.4,1.6,1.8,2.2,2.4,2.6,2.8,3.2,3.4,3.6,3.8,4.2,4.4,4.6,4.8,5.2,5.4,5.6,5.8,6.2,6.4,6.6,6.8,7.2,7.4,7.6,7.8,8.2,8.4,8.6,8.8], "labels": false, "grid": false, "domain": false, "tickSize": 6, "title": null}},
  "y": {"field": "y", "type": "quantitative", "scale": {"domain": [-60, 0], "nice": false, "zero": false}, "axis": {"orient": "left", "values": [-2.5,-7.5,-12.5,-17.5,-22.5,-27.5,-32.5,-37.5,-42.5,-47.5,-52.5,-57.5], "labels": false, "grid": false, "domain": false, "tickSize": 6, "title": null}},
  "text": {"field": "t"}}},
{"data": {"name": "iso"},
 "mark": {"type": "line", "color": "#e8141c", "strokeWidth": 2.8, "clip": true},
 "encoding": {
  "x": {"field": "f", "type": "quantitative", "scale": {"domain": [0, 9], "nice": false, "zero": false}, "axis": {"orient": "bottom", "values": [0,1,2,3,4,5,6,7,8,9], "format": "d", "grid": true, "tickSize": 13, "labelPadding": 5, "labelFontSize": 16, "title": "freq, GHz", "titleFontSize": 19, "titleColor": "#d92b2b", "titleY": 62, "titleBaseline": "middle"}},
  "y": {"field": "v", "type": "quantitative", "scale": {"domain": [-60, 0], "nice": false, "zero": false}, "axis": {"orient": "left", "values": [0,-5,-10,-15,-20,-25,-30,-35,-40,-45,-50,-55,-60], "format": "d", "grid": true, "tickSize": 15, "labelPadding": 2, "labelFontSize": 15, "title": "Isolation [dB]", "titleFontSize": 19, "titleX": -67.3, "titleY": 169, "titleBaseline": "middle"}}}},
{"data": {"values": [{"x": 7.97, "y": -6.62, "t": "P1 to P4\nor\nP2 to P3"}]},
 "mark": {"type": "text", "align": "center", "baseline": "alphabetic", "fontSize": 23, "lineHeight": 23.5, "lineBreak": "\n", "color": "#111"},
 "encoding": {
  "x": {"field": "x", "type": "quantitative", "scale": {"domain": [0, 9], "nice": false, "zero": false}, "axis": null},
  "y": {"field": "y", "type": "quantitative", "scale": {"domain": [-60, 0], "nice": false, "zero": false}, "axis": null},
  "text": {"field": "t"}}}
]
},
{
"width": 534, "height": 338,
"resolve": {"axis": {"x": "independent", "y": "independent"}},
"layer": [
{"data": {"values": [{"x": -1.33, "y": -10.96, "t": "ADS"}]},
 "mark": {"type": "text", "align": "left", "baseline": "alphabetic", "fontSize": 14, "color": "#a3a3a3"},
 "encoding": {
  "x": {"field": "x", "type": "quantitative", "scale": {"domain": [0, 9], "nice": false, "zero": false}, "axis": {"orient": "bottom", "values": [0.2,0.4,0.6,0.8,1.2,1.4,1.6,1.8,2.2,2.4,2.6,2.8,3.2,3.4,3.6,3.8,4.2,4.4,4.6,4.8,5.2,5.4,5.6,5.8,6.2,6.4,6.6,6.8,7.2,7.4,7.6,7.8,8.2,8.4,8.6,8.8], "labels": false, "grid": false, "domain": false, "tickSize": 6, "title": null}},
  "y": {"field": "y", "type": "quantitative", "scale": {"domain": [-30, -10], "nice": false, "zero": false}, "axis": {"orient": "left", "values": [-10.5,-11.5,-12.5,-13.5,-14.5,-15.5,-16.5,-17.5,-18.5,-19.5,-20.5,-21.5,-22.5,-23.5,-24.5,-25.5,-26.5,-27.5,-28.5,-29.5], "labels": false, "grid": false, "domain": false, "tickSize": 6, "title": null}},
  "text": {"field": "t"}}},
{"data": {"name": "cpl"},
 "mark": {"type": "line", "color": "#e8141c", "strokeWidth": 2.8, "clip": true},
 "encoding": {
  "x": {"field": "f", "type": "quantitative", "scale": {"domain": [0, 9], "nice": false, "zero": false}, "axis": {"orient": "bottom", "values": [0,1,2,3,4,5,6,7,8,9], "format": "d", "grid": true, "tickSize": 13, "labelPadding": 5, "labelFontSize": 16, "title": "freq, GHz", "titleFontSize": 19, "titleColor": "#d92b2b", "titleY": 62, "titleBaseline": "middle"}},
  "y": {"field": "v", "type": "quantitative", "scale": {"domain": [-30, -10], "nice": false, "zero": false}, "axis": {"orient": "left", "values": [-10,-11,-12,-13,-14,-15,-16,-17,-18,-19,-20,-21,-22,-23,-24,-25,-26,-27,-28,-29,-30], "format": "d", "grid": true, "tickSize": 15, "labelPadding": 2, "labelFontSize": 15, "title": "Coupling [dB]", "titleFontSize": 19, "titleX": -67.1, "titleY": 169, "titleBaseline": "middle"}}}},
{"data": {"values": [{"x": 7.975, "y": -12.21, "t": "P1 to P3\nor\nP2 to P4"}]},
 "mark": {"type": "text", "align": "center", "baseline": "alphabetic", "fontSize": 23, "lineHeight": 23.5, "lineBreak": "\n", "color": "#111"},
 "encoding": {
  "x": {"field": "x", "type": "quantitative", "scale": {"domain": [0, 9], "nice": false, "zero": false}, "axis": null},
  "y": {"field": "y", "type": "quantitative", "scale": {"domain": [-30, -10], "nice": false, "zero": false}, "axis": null},
  "text": {"field": "t"}}}
]
},
{
"width": 534, "height": 338,
"view": {"stroke": null},
"layer": [
{"data": {"values": [{"x": -10.11, "x2": -3.46, "y": 68.55}, {"x": -10.11, "x2": -3.46, "y": 37.19}, {"x": 99.91, "x2": 103.37, "y": 68.55}, {"x": 99.91, "x2": 103.37, "y": 37.19}]},
 "mark": {"type": "rule", "color": "#444", "strokeWidth": 1.5},
 "encoding": {
  "x": {"field": "x", "type": "quantitative", "scale": {"domain": [0, 100], "nice": false, "zero": false}, "axis": null},
  "x2": {"field": "x2"},
  "y": {"field": "y", "type": "quantitative", "scale": {"domain": [0, 100], "nice": false, "zero": false}, "axis": null}}},
{"data": {"values": [{"x": -3.46, "x2": 99.91, "y": 21.21, "y2": 84.82}]},
 "mark": {"type": "rect", "fill": "white", "stroke": "#333", "strokeWidth": 1.5},
 "encoding": {
  "x": {"field": "x", "type": "quantitative", "scale": {"domain": [0, 100], "nice": false, "zero": false}, "axis": null},
  "x2": {"field": "x2"},
  "y": {"field": "y", "type": "quantitative", "scale": {"domain": [0, 100], "nice": false, "zero": false}, "axis": null},
  "y2": {"field": "y2"}}},
{"data": {"values": [{"x": 0.1, "y": 62.63, "t": "P1"}, {"x": 0.3, "y": 31.07, "t": "P3"}]},
 "mark": {"type": "text", "align": "left", "baseline": "alphabetic", "fontSize": 45, "color": "#111"},
 "encoding": {
  "x": {"field": "x", "type": "quantitative", "scale": {"domain": [0, 100], "nice": false, "zero": false}, "axis": null},
  "y": {"field": "y", "type": "quantitative", "scale": {"domain": [0, 100], "nice": false, "zero": false}, "axis": null},
  "text": {"field": "t"}}},
{"data": {"values": [{"x": 97.12, "y": 62.63, "t": "P2"}, {"x": 97.12, "y": 31.07, "t": "P4"}]},
 "mark": {"type": "text", "align": "right", "baseline": "alphabetic", "fontSize": 45, "color": "#111"},
 "encoding": {
  "x": {"field": "x", "type": "quantitative", "scale": {"domain": [0, 100], "nice": false, "zero": false}, "axis": null},
  "y": {"field": "y", "type": "quantitative", "scale": {"domain": [0, 100], "nice": false, "zero": false}, "axis": null},
  "text": {"field": "t"}}},
{"data": {"values": [{"x": 20.0, "y": 62.93, "t": "Input"}, {"x": 20.0, "y": 56.21, "t": "Output"}, {"x": 20.0, "y": 48.82, "t": "Coupled In"}, {"x": 20.0, "y": 42.4, "t": "Coupled Out"}, {"x": 45.2, "y": 62.93, "t": "= P1, P2, P3, P4"}, {"x": 45.2, "y": 56.21, "t": "= P2, P1, P4, P3"}, {"x": 45.5, "y": 48.82, "t": "= P3, P4, P1, P2"}, {"x": 45.2, "y": 42.4, "t": "=P4, P3, P2, P1"}]},
 "mark": {"type": "text", "align": "left", "baseline": "alphabetic", "fontSize": 21.5, "color": "#111"},
 "encoding": {
  "x": {"field": "x", "type": "quantitative", "scale": {"domain": [0, 100], "nice": false, "zero": false}, "axis": null},
  "y": {"field": "y", "type": "quantitative", "scale": {"domain": [0, 100], "nice": false, "zero": false}, "axis": null},
  "text": {"field": "t"}}}
]
}
],
"config": {
 "font": "Liberation Sans",
 "view": {"stroke": "#333", "strokeWidth": 1.2},
 "axis": {"labelFont": "Liberation Sans", "titleFont": "Liberation Sans", "labelColor": "#1a1a1a", "titleColor": "#1a1a1a", "titleFontWeight": "normal", "domainColor": "#111", "domainWidth": 1.5, "tickColor": "#222", "tickWidth": 1.3, "gridColor": "#c6c6c6", "gridWidth": 1, "labelOverlap": false, "labelBound": false, "labelFlush": false},
 "locale": {"number": {"decimal": ".", "thousands": ",", "grouping": [3], "currency": ["$", ""], "minus": "-"}}
}
}
